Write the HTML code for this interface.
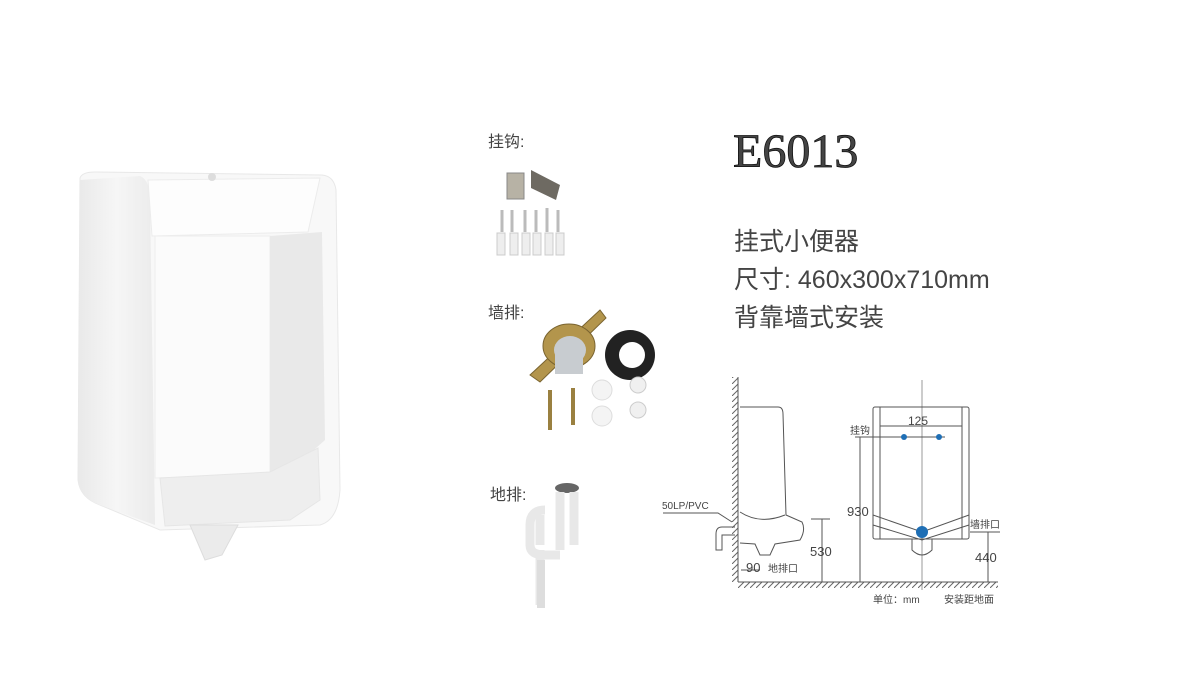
<!DOCTYPE html>
<html><head><meta charset="utf-8"><style>
html,body{margin:0;padding:0;background:#fff;width:1184px;height:684px;overflow:hidden}
svg{display:block}
text{font-family:"Liberation Sans","Noto Sans CJK SC",sans-serif;fill:#444}
</style></head><body>
<svg width="1184" height="684" viewBox="0 0 1184 684" xmlns="http://www.w3.org/2000/svg">
<defs>
<pattern id="h" width="6" height="6" patternUnits="userSpaceOnUse"><path d="M0 6L6 0" stroke="#666" stroke-width="1"/></pattern>
<linearGradient id="lg" x1="0" x2="1"><stop offset="0" stop-color="#e9e9e9"/><stop offset="0.5" stop-color="#f6f6f6"/><stop offset="1" stop-color="#ebebeb"/></linearGradient>
</defs>
<!-- urinal photo -->
<path d="M80 178 Q82 172 95 172 L322 175 Q334 176 336 190 L340 490 Q338 520 320 525 L160 530 L100 505 Q80 498 78 480 Z" fill="#f8f8f8" stroke="#e8e8e8"/>
<path d="M80 180 L140 176 Q150 180 150 200 L155 525 L100 505 Q80 498 78 480Z" fill="url(#lg)"/>
<path d="M148 180 L320 178 L308 232 L152 236Z" fill="#fdfdfd" stroke="#ececec"/>
<circle cx="212" cy="177" r="4" fill="#ddd"/>
<path d="M155 236 L270 236 L270 475 L155 478Z" fill="#fbfbfb" stroke="#eee"/>
<path d="M270 236 L322 232 L325 440 L280 480 L270 475Z" fill="#e9e9e9"/>
<path d="M160 478 L270 472 L318 448 L320 500 L290 520 L165 526Z" fill="#eeeeee" stroke="#e6e6e6"/>
<path d="M190 525 L238 525 L222 555 L205 560Z" fill="#ebebeb" stroke="#ddd"/>
<!-- labels -->
<text x="488" y="147" font-size="16" fill="#555">挂钩:</text>
<text x="488" y="318" font-size="16" fill="#555">墙排:</text>
<text x="490" y="500" font-size="16" fill="#555">地排:</text>
<!-- hooks -->
<rect x="507" y="173" width="17" height="26" fill="#b7b2a5" stroke="#888"/>
<path d="M531 170 L560 185 L556 200 L531 188Z" fill="#6e6a62"/>
<g stroke="#bbb" stroke-width="3">
<path d="M502 210 V232 M512 210V232 M525 210V232 M536 210V232 M547 208V232 M558 210V232"/></g>
<g fill="#eee" stroke="#ccc"><rect x="497" y="233" width="8" height="22"/><rect x="510" y="233" width="8" height="22"/><rect x="522" y="233" width="8" height="22"/><rect x="533" y="233" width="8" height="22"/><rect x="545" y="233" width="8" height="22"/><rect x="556" y="233" width="8" height="22"/></g>
<!-- wall drain -->
<path d="M530 375 L600 310 L606 318 L540 382Z" fill="#b3954c" stroke="#7a6430"/>
<ellipse cx="569" cy="346" rx="26" ry="22" fill="#b3954c" stroke="#7a6430"/>
<ellipse cx="570" cy="350" rx="16" ry="14" fill="#c8ccd0"/>
<rect x="555" y="352" width="28" height="22" fill="#c8ccd0"/>
<circle cx="630" cy="355" r="25" fill="#222"/><circle cx="632" cy="355" r="13" fill="#fff"/>
<circle cx="602" cy="390" r="10" fill="#f4f4f4" stroke="#ddd"/><circle cx="602" cy="416" r="10" fill="#f4f4f4" stroke="#ddd"/>
<circle cx="638" cy="385" r="8" fill="#f0f0f0" stroke="#ccc"/><circle cx="638" cy="410" r="8" fill="#f0f0f0" stroke="#ccc"/>
<path d="M550 390 V430 M573 388V425" stroke="#9a8040" stroke-width="4"/>
<!-- floor drain -->
<ellipse cx="567" cy="488" rx="12" ry="5" fill="#666"/>
<path d="M560 492 V550 M574 492V545 M545 510 Q530 510 530 525 V545 Q530 555 545 555 H560 M540 515V545 M540 550V605" stroke="#e8e8e8" stroke-width="9" fill="none"/>
<path d="M541 560 V608" stroke="#ddd" stroke-width="8"/>
<!-- title -->
<text x="733" y="167" font-size="48" style="font-family:'Liberation Serif',serif" fill="#111" stroke="#111" stroke-width="0.8">E6013</text>
<text x="734" y="250" font-size="25" fill="#555">挂式小便器</text>
<text x="734" y="288" font-size="25" fill="#555">尺寸: 460x300x710mm</text>
<text x="734" y="326" font-size="25" fill="#555">背靠墙式安装</text>
<!-- drawing -->
<rect x="732" y="377" width="6" height="205" fill="url(#h)"/>
<line x1="738" y1="377" x2="738" y2="582" stroke="#555"/>
<rect x="738" y="582" width="260" height="6" fill="url(#h)"/>
<line x1="738" y1="582" x2="998" y2="582" stroke="#555"/>
<g stroke="#555" fill="none" stroke-width="1">
<path d="M740 407 H778 Q783 407 783 414 L786 515 L802 522 Q806 530 800 540 L775 544 L770 555 H760 L755 544 L740 543"/>
<path d="M740 512 Q760 525 785 515"/>
<path d="M735 527 H722 Q716 527 716 534 V550 H722 V535 H735"/>
<path d="M663 513 H718 L732 522"/>
<path d="M811 519 H830 M822 519 V582"/>
<rect x="873" y="407" width="96" height="132" rx="2"/>
<path d="M880 407 V539 M962 407V539"/>
<path d="M873 515 L922 532 L969 515 M873 525 L922 540 L969 525"/>
<path d="M912 539 V550 Q922 560 932 550 V539"/>
<path d="M922 380 V590" stroke-width="0.6"/>
<path d="M880 426 H962 M855 437 H945 M860 437 V582 M988 532 V582 M970 532 H1000"/>
<path d="M741 570 H760"/>
</g>
<circle cx="904" cy="437" r="3" fill="#1f6fb5"/><circle cx="939" cy="437" r="3" fill="#1f6fb5"/>
<circle cx="922" cy="532" r="6" fill="#1f6fb5"/>
<text x="908" y="425" font-size="12">125</text>
<text x="850" y="434" font-size="10">挂钩</text>
<text x="847" y="516" font-size="13">930</text>
<text x="810" y="556" font-size="13">530</text>
<text x="975" y="562" font-size="13">440</text>
<text x="662" y="509" font-size="10">50LP/PVC</text>
<text x="746" y="572" font-size="13">90</text>
<text x="768" y="572" font-size="10">地排口</text>
<text x="970" y="528" font-size="10">墙排口</text>
<text x="873" y="603" font-size="10">单位：mm</text>
<text x="944" y="603" font-size="10">安装距地面</text>
</svg>
</body></html>
